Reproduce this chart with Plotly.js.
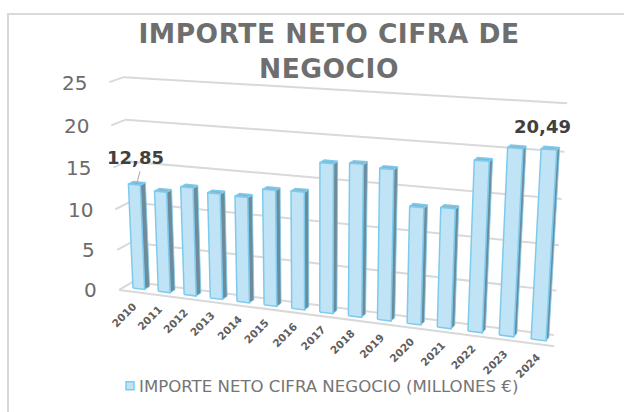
<!DOCTYPE html>
<html><head><meta charset="utf-8">
<script src="https://cdn.plot.ly/plotly-3.0.1.min.js"></script>
<style>html,body{margin:0;padding:0;background:#fff}#c{width:624px;height:412px}.gtitle{letter-spacing:0.5px}</style></head>
<body><div id="c"></div>
<script>
const years = ['2010','2011','2012','2013','2014','2015','2016','2017','2018','2019','2020','2021','2022','2023','2024'];
const values = [12.85,12.3,13.1,12.7,12.6,13.7,13.8,17.3,17.5,17.2,13.3,13.5,18.9,20.49,20.6];
const yTicks = [0,5,10,15,20,25];
const labelled = {0:'12,85',13:'20,49'};
const titleText = 'IMPORTE NETO CIFRA DE<br>NEGOCIO';
const seriesName = 'IMPORTE NETO CIFRA NEGOCIO (MILLONES €)';

// oblique perspective of the 3-D column chart: (category, value, depth) -> page position
function project(i, v, d){
  const w = 1 - 0.0083*i - 0.0019*v + 0.006*d;
  return [(133 + 24.03*i - 0.6*v + 5.83*d)/w, (288 + 0.835*i - 8.44*v - 1.3*d)/w];
}
const barW = 0.46, wallD = 1.7, frontD = -1, iL = -0.35, iR = 14.55, iF = 14.8;
function poly(pts){ return pts.map(p=>project(...p)); }
function collect(polys){
  const x=[],y=[];
  polys.forEach(pl=>{ pl.forEach(p=>{x.push(p[0]);y.push(p[1]);}); x.push(pl[0][0]); y.push(pl[0][1]); x.push(null); y.push(null); });
  return {x,y};
}
const gx=[],gy=[];
yTicks.forEach(v=>{ poly([[iL,v,frontD],[iL,v,wallD],[iR,v,wallD]]).forEach(p=>{gx.push(p[0]);gy.push(p[1]);}); gx.push(null);gy.push(null); });
const floorPts = poly([[iL,0,frontD],[iF,0,frontD]]);

const fronts = values.map((v,i)=>poly([[i,0,0],[i+barW,0,0],[i+barW,v,0],[i,v,0]]));
const sides  = values.map((v,i)=>poly([[i+barW,0,0],[i+barW,0,1],[i+barW,v,1],[i+barW,v,0]]));
const tops   = values.map((v,i)=>poly([[i,v,0],[i+barW,v,0],[i+barW,v,1],[i,v,1]]));
const edge = {color:'#7ccbee',width:1.5};
function face(polys,color,ln){ const c=collect(polys); return {x:c.x,y:c.y,mode:'lines',fill:'toself',fillcolor:color,line:ln||edge,hoverinfo:'skip',showlegend:false}; }

const traces = [
 {x:gx,y:gy,mode:'lines',line:{color:'#d9d9d9',width:2},hoverinfo:'skip',showlegend:false},
 {x:floorPts.map(p=>p[0]),y:floorPts.map(p=>p[1]),mode:'lines',line:{color:'#d9d9d9',width:2},hoverinfo:'skip',showlegend:false},
 face(sides,'#6f8b99',{color:'#7ccbee',width:0.8}),
 face(tops,'#8fb3c4'),
 face(fronts,'#c1e3f6'),
 {x:[null],y:[null],mode:'markers',name:seriesName,marker:{symbol:'square',size:8,color:'#c1e3f6',line:{color:'#7ccbee',width:1.5}},showlegend:true,hoverinfo:'skip'}
];
const ann = [];
yTicks.forEach(v=>{ const p=project(iL,v,frontD);
  ann.push({x:p[0]-20,y:p[1]+0.5,xref:'x',yref:'y',text:String(v),showarrow:false,xanchor:'right',yanchor:'middle',font:{family:'DejaVu Sans',size:20,color:'#6b6b6b'}});});
years.forEach((t,i)=>{ const p=project(i,0,0);
  ann.push({x:p[0]-9.5+0.4*i,y:p[1]+26.5,xref:'x',yref:'y',text:t,showarrow:false,textangle:-45,xanchor:'center',yanchor:'middle',font:{family:'DejaVu Sans',size:10.5,color:'#5f5f5f',weight:'bold'}});});
Object.keys(labelled).forEach(k=>{ const i=+k,p=project(i+barW/2,values[i],0.5);
  ann.push({x:p[0]+(i?26:-1.5),y:p[1]-(i?20:25.5),xref:'x',yref:'y',text:labelled[k],showarrow:false,xanchor:'center',yanchor:'middle',font:{family:'DejaVu Sans',size:18,color:'#404040',weight:'bold'}});});
const lead0 = project(barW/2,values[0],0.5);
traces.push({x:[lead0[0]+3,lead0[0]],y:[lead0[1]-12,lead0[1]],mode:'lines',line:{color:'#a6a6a6',width:1},hoverinfo:'skip',showlegend:false});

const layout = {
 width:624,height:412,margin:{l:0,r:0,t:0,b:0},paper_bgcolor:'#fff',plot_bgcolor:'#fff',
 title:{text:titleText,x:329/624,xanchor:'center',y:0.895,yanchor:'middle',font:{family:'DejaVu Sans',size:26.5,color:'#6e6e6e',weight:'bold'}},
 xaxis:{range:[0,624],visible:false,fixedrange:true},
 yaxis:{range:[412,0],visible:false,fixedrange:true},
 legend:{x:99/624,y:1-386/412,xanchor:'left',yanchor:'middle',bgcolor:'rgba(0,0,0,0)',font:{family:'DejaVu Sans',size:16.6,color:'#757575'}},
 annotations:ann,
 shapes:[{type:'line',xref:'paper',yref:'paper',x0:8/624,x1:8/624,y0:0,y1:1-14/412,line:{color:'#d9d9d9',width:2}},
         {type:'line',xref:'paper',yref:'paper',x0:7/624,x1:1,y0:1-14/412,y1:1-14/412,line:{color:'#d9d9d9',width:2}}]
};
Plotly.newPlot('c',traces,layout,{displayModeBar:false,staticPlot:true}).then(()=>{
  document.querySelectorAll('#c .legendsymbols').forEach(g=>g.setAttribute('transform','translate(11,0)'));
});
</script></body></html>
